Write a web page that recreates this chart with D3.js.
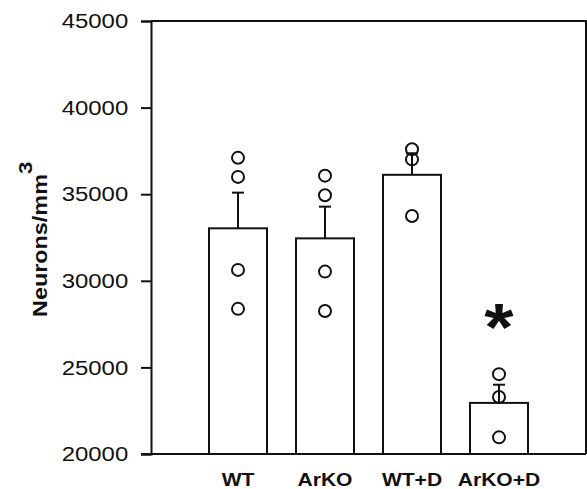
<!DOCTYPE html>
<html>
<head>
<meta charset="utf-8">
<script src="https://cdn.jsdelivr.net/npm/d3@7"></script>
<style>
  body { margin: 0; background: #fff; }
  text { font-family: "Liberation Sans", Arial, sans-serif; fill: #111; }
</style>
</head>
<body>
<svg id="chart" width="587" height="489"></svg>
<script>
// values
var groups = ["WT", "ArKO", "WT+D", "ArKO+D"];
var means = [33030, 32450, 36120, 22950];
var errors = [2060, 1830, 1240, 1050];
var points = [
  [37100, 36000, 30630, 28380],
  [36070, 34940, 30530, 28260],
  [37600, 37010, 33740],
  [24610, 23290, 20960]
];
var yTicks = [20000, 25000, 30000, 35000, 40000, 45000];
var starGroup = "ArKO+D";

var svg = d3.select("#chart");
var plotL = 151, plotR = 586, plotT = 21, plotB = 454;
var stretch = 1.14; // the original type is a bit wide

var x = d3.scalePoint().domain(groups).range([plotL, plotR]).padding(1);
var y = d3.scaleLinear().domain([20000, 45000]).range([plotB, plotT]);
var barW = 58;

// frame (top and right side)
svg.append("path")
  .attr("d", "M" + plotL + "," + plotT + "H" + plotR + "V" + plotB)
  .attr("fill", "none")
  .attr("stroke", "#111")
  .attr("stroke-width", 2);

// bars
svg.selectAll("rect.bar")
  .data(groups)
  .enter()
  .append("rect")
  .attr("class", "bar")
  .attr("x", function (d) { return x(d) - barW / 2; })
  .attr("y", function (d, i) { return y(means[i]); })
  .attr("width", barW)
  .attr("height", function (d, i) { return y(20000) - y(means[i]); })
  .attr("fill", "#fff")
  .attr("stroke", "#111")
  .attr("stroke-width", 2);

// error bars (upper only)
var err = svg.selectAll("g.err")
  .data(groups)
  .enter()
  .append("g")
  .attr("class", "err")
  .attr("stroke", "#111")
  .attr("stroke-width", 2);
err.append("line")
  .attr("x1", function (d) { return x(d); })
  .attr("x2", function (d) { return x(d); })
  .attr("y1", function (d, i) { return y(means[i]); })
  .attr("y2", function (d, i) { return y(means[i] + errors[i]); });
err.append("line")
  .attr("x1", function (d) { return x(d) - 6; })
  .attr("x2", function (d) { return x(d) + 6; })
  .attr("y1", function (d, i) { return y(means[i] + errors[i]); })
  .attr("y2", function (d, i) { return y(means[i] + errors[i]); });

// individual animals
var dots = [];
groups.forEach(function (g, i) {
  points[i].forEach(function (v) { dots.push({ group: g, value: v }); });
});
svg.selectAll("circle")
  .data(dots)
  .enter()
  .append("circle")
  .attr("cx", function (d) { return x(d.group); })
  .attr("cy", function (d) { return y(d.value); })
  .attr("r", 6)
  .attr("fill", "none")
  .attr("stroke", "#111")
  .attr("stroke-width", 2);

// y axis
var yAxis = svg.append("g")
  .attr("transform", "translate(" + plotL + ",0)")
  .call(d3.axisLeft(y).tickValues(yTicks).tickSize(10).tickPadding(10).tickFormat(d3.format("d")));
yAxis.select(".domain").attr("stroke", "#111").attr("stroke-width", 2);
yAxis.selectAll(".tick line").attr("stroke", "#111").attr("stroke-width", 2);
yAxis.selectAll(".tick text")
  .attr("font-size", 21)
  .attr("font-family", null)
  .attr("fill", "#111")
  .attr("transform", "scale(" + stretch + ",1)");

// bottom baseline from the tick to the right edge
svg.append("line")
  .attr("x1", plotL - 10)
  .attr("x2", plotR)
  .attr("y1", plotB)
  .attr("y2", plotB)
  .attr("stroke", "#111")
  .attr("stroke-width", 2);

// category labels
svg.selectAll("text.cat")
  .data(groups)
  .enter()
  .append("text")
  .attr("class", "cat")
  .attr("transform", function (d) { return "translate(" + x(d) + ",486) scale(1.17,1)"; })
  .attr("text-anchor", "middle")
  .attr("font-weight", "bold")
  .attr("font-size", 18)
  .text(function (d) { return d; });

// y title
var title = svg.append("text")
  .attr("transform", "translate(47,317) rotate(-90) scale(1.17,1)")
  .attr("font-weight", "bold")
  .attr("font-size", 20)
  .text("Neurons/mm");
title.append("tspan")
  .attr("dy", -15)
  .attr("font-size", 19)
  .text("3");

// significance mark
svg.append("text")
  .attr("transform", "translate(" + x(starGroup) + ",350) scale(" + stretch + ",1)")
  .attr("text-anchor", "middle")
  .attr("font-weight", "bold")
  .attr("font-size", 66)
  .text("*");
</script>
</body>
</html>
